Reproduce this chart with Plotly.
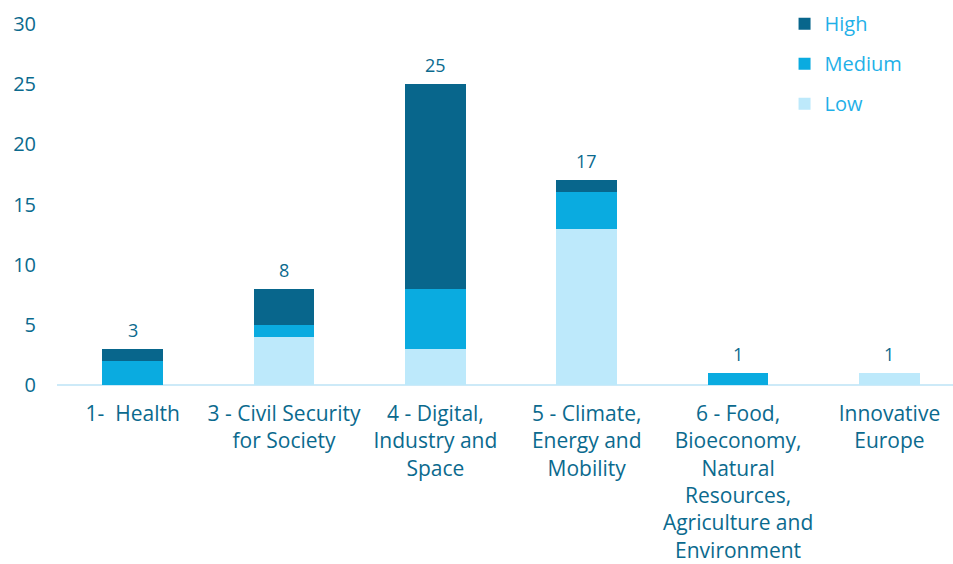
import plotly.graph_objects as go

categories = [
    "1-  Health",
    "3 - Civil Security<br>for Society",
    "4 - Digital,<br>Industry and<br>Space",
    "5 - Climate,<br>Energy and<br>Mobility",
    "6 - Food,<br>Bioeconomy,<br>Natural<br>Resources,<br>Agriculture and<br>Environment",
    "Innovative<br>Europe",
]
low = [0, 4, 3, 13, 0, 1]
medium = [2, 1, 5, 3, 1, 0]
high = [1, 3, 17, 1, 0, 0]
totals = [l + m + h for l, m, h in zip(low, medium, high)]

FONT = "Open Sans"
TXT = "#0b6a8e"

fig = go.Figure()
for name, vals, col, rank in [("Low", low, "#bde9fb", 3), ("Medium", medium, "#0aabe0", 2),
                              ("High", high, "#08668c", 1)]:
    fig.add_trace(go.Bar(name=name, x=categories, y=vals, marker_color=col, width=0.4,
                         marker_line_width=0, legendgroup=name, legendrank=rank))

for c, t in zip(categories, totals):
    fig.add_annotation(x=c, y=t, text=str(t), showarrow=False, yanchor="bottom", yshift=5,
                       font=dict(family=FONT, size=18, color=TXT))

fig.update_layout(
    barmode="stack",
    width=953, height=564,
    margin=dict(l=57, r=0, t=24, b=179),
    plot_bgcolor="white", paper_bgcolor="white",
    font=dict(family=FONT, color=TXT),
    legend=dict(x=0.812, y=1.055, xanchor="left", yanchor="top", traceorder="grouped",
                font=dict(family=FONT, size=20, color="#1fb0e8"), itemwidth=30,
                tracegroupgap=11, bgcolor="rgba(0,0,0,0)"),
    xaxis=dict(range=[-0.5, 5.42], showgrid=False, showline=False, zeroline=False,
               tickfont=dict(family=FONT, size=21, color=TXT), ticks="", ticklabelstandoff=14),
    yaxis=dict(range=[0, 30], dtick=5, showgrid=False, zeroline=True, zerolinecolor="#cdeaf8",
               zerolinewidth=2, showline=False, tickfont=dict(family=FONT, size=20, color=TXT),
               ticklabelstandoff=20),
)
fig.write_html("out.html")
